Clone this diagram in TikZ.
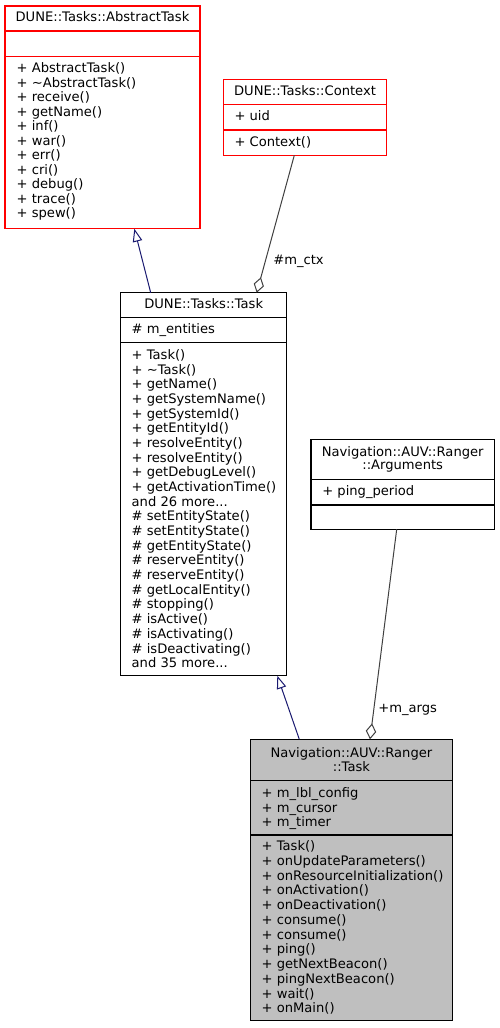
\documentclass[tikz,border=0pt]{standalone}
\usepackage{fontspec}
\setmainfont{DejaVu Sans}
\usetikzlibrary{arrows.meta,calc}
\definecolor{edgeblue}{HTML}{191970}
\definecolor{edgegray}{HTML}{404040}
\definecolor{rangerfill}{HTML}{BFBFBF}
\newcommand\mdots{...}
\newcommand\tl{\textasciitilde}
% #1 name prefix, #2 x, #3 first baseline, #4 spacing, #5 list
\newcommand\classlines[5]{%
  \foreach \t [count=\i from 0] in {#5} {%
    \node[txt] (#1-\i) at ({#2},{#3+\i*#4}) {\t};}}
\begin{document}
\begin{tikzpicture}[x=1pt,y=-1pt,
  txt/.style={anchor=base west,inner sep=0pt,outer sep=0pt,font=\fontsize{13.1}{14}\selectfont},
  ttl/.style={txt,anchor=base},
  cls/.style={rectangle,draw,inner sep=0pt,outer sep=0pt,anchor=north west,line width=1.1pt},
  redcls/.style={cls,draw=red},
  blkcls/.style={cls,draw=black},
  inh/.style={draw=edgeblue,line width=1pt,-{Triangle[open,length=13pt,width=9.5pt,line width=1pt]}},
  agg/.style={draw=edgegray,line width=1pt,-{Diamond[open,length=16pt,width=10.5pt,line width=1pt]}},
  div/.style={line width=1.1pt}]
\useasboundingbox[fill=white] (0,0) rectangle (499,1028);

% AbstractTask
\node[redcls,minimum width=195pt,minimum height=222.7pt] (abs) at (5,6) {};
\draw[div,red] (5,31) -- (200,31);
\draw[div,red] (5,56.7) -- (200,56.7);
\node[ttl] (abs-title) at (102.5,21.7) {DUNE::Tasks::AbstractTask};
\classlines{absm}{16.7}{72.9}{14.5}{+ AbstractTask(),+ \tl AbstractTask(),+ receive(),+ getName(),+ inf(),+ war(),+ err(),+ cri(),+ debug(),+ trace(),+ spew()}

% Context
\node[redcls,minimum width=163.4pt,minimum height=76pt] (ctx) at (223.3,79.3) {};
\draw[div,red] (223.3,104.3) -- (386.7,104.3);
\draw[div,red] (223.3,130) -- (386.7,130);
\node[ttl] (ctx-title) at (305,95.3) {DUNE::Tasks::Context};
\node[txt] (ctx-a) at (234.5,120.9) {+ uid};
\node[txt] (ctx-m) at (234.5,146.3) {+ Context()};

% Task
\node[blkcls,minimum width=166pt,minimum height=383pt] (task) at (120.7,292.7) {};
\draw[div] (120.7,317.7) -- (286.7,317.7);
\draw[div] (120.7,342.7) -- (286.7,342.7);
\node[ttl] (task-title) at (203.7,308.9) {DUNE::Tasks::Task};
\node[txt] (task-a) at (131.7,333.9) {\# m\_entities};
\classlines{taskm}{131.7}{359.6}{14.67}{+ Task(),+ \tl Task(),+ getName(),+ getSystemName(),+ getSystemId(),+ getEntityId(),+ resolveEntity(),+ resolveEntity(),+ getDebugLevel(),+ getActivationTime(),and 26 more\mdots,\# setEntityState(),\# setEntityState(),\# getEntityState(),\# reserveEntity(),\# reserveEntity(),\# getLocalEntity(),\# stopping(),\# isActive(),\# isActivating(),\# isDeactivating(),and 35 more\mdots}

% Arguments
\node[blkcls,minimum width=183.3pt,minimum height=90pt] (args) at (311,439.3) {};
\draw[div] (311,479.3) -- (494.3,479.3);
\draw[div] (311,505) -- (494.3,505);
\node[ttl] (args-t1) at (402.7,456.3) {Navigation::AUV::Ranger};
\node[ttl] (args-t2) at (402.7,469.6) {::Arguments};
\node[txt] (args-a) at (322.3,495.6) {+ ping\_period};

% Ranger::Task
\node[blkcls,fill=rangerfill,minimum width=201.8pt,minimum height=281.4pt] (rng) at (250.5,739.3) {};
\draw[div] (250.5,780.7) -- (452.3,780.7);
\draw[div] (250.5,835) -- (452.3,835);
\node[ttl] (rng-t1) at (351.4,757.9) {Navigation::AUV::Ranger};
\node[ttl] (rng-t2) at (351.4,771.9) {::Task};
\classlines{rnga}{261.7}{797.9}{14.2}{+ m\_lbl\_config,+ m\_cursor,+ m\_timer}
\classlines{rngm}{261.7}{850.6}{14.75}{+ Task(),+ onUpdateParameters(),+ onResourceInitialization(),+ onActivation(),+ onDeactivation(),+ consume(),+ consume(),+ ping(),+ getNextBeacon(),+ pingNextBeacon(),+ wait(),+ onMain()}

% edges
\draw[inh] ($(task.north west)+(30,0)$) -- ($(abs.south west)+(129.3,0)$);
\draw[inh] ($(rng.north west)+(48.8,0)$) -- ($(task.south west)+(156.6,0)$);
\draw[agg] ($(ctx.south west)+(71,0)$) -- ($(task.north west)+(136,0)$);
\draw[agg] ($(args.south west)+(85.7,0)$) -- ($(rng.north west)+(119.5,0)$);
\node[txt] (lbl-ctx) at (273.3,264.6) {\#m\_ctx};
\node[txt] (lbl-args) at (378.3,712.3) {+m\_args};
\end{tikzpicture}
\end{document}
